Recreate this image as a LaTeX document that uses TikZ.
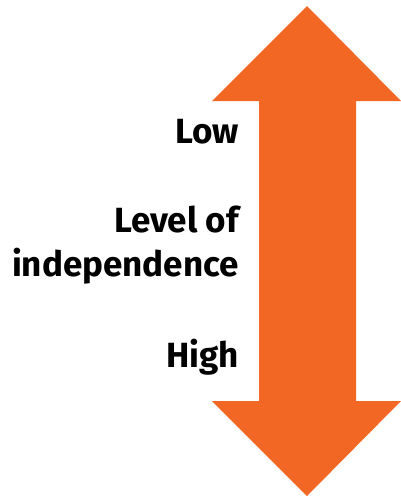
\documentclass[tikz,border=0pt]{standalone}
\usepackage{fontspec}
\setmainfont{Fira Sans}
\definecolor{arroworange}{HTML}{F36724}
\begin{document}
\begin{tikzpicture}[x=1pt,y=-1pt,
  label/.style={font=\fontsize{35}{40}\selectfont\bfseries, anchor=base east, inner sep=0pt, align=right}]
\useasboundingbox (0,0) rectangle (401,498);
% double-headed vertical arrow
\fill[arroworange] (307,6) -- (401,101) -- (356,101) -- (356,401) -- (401,401)
  -- (307,496) -- (212,401) -- (259,401) -- (259,101) -- (212,101) -- cycle;
% labels
\node[label] (low) at (239,143) {Low};
\node[label] (level) at (239,232) {Level of};
\node[label] (indep) at (239,276) {independence};
\node[label] (high) at (239,367) {High};
\end{tikzpicture}
\end{document}
